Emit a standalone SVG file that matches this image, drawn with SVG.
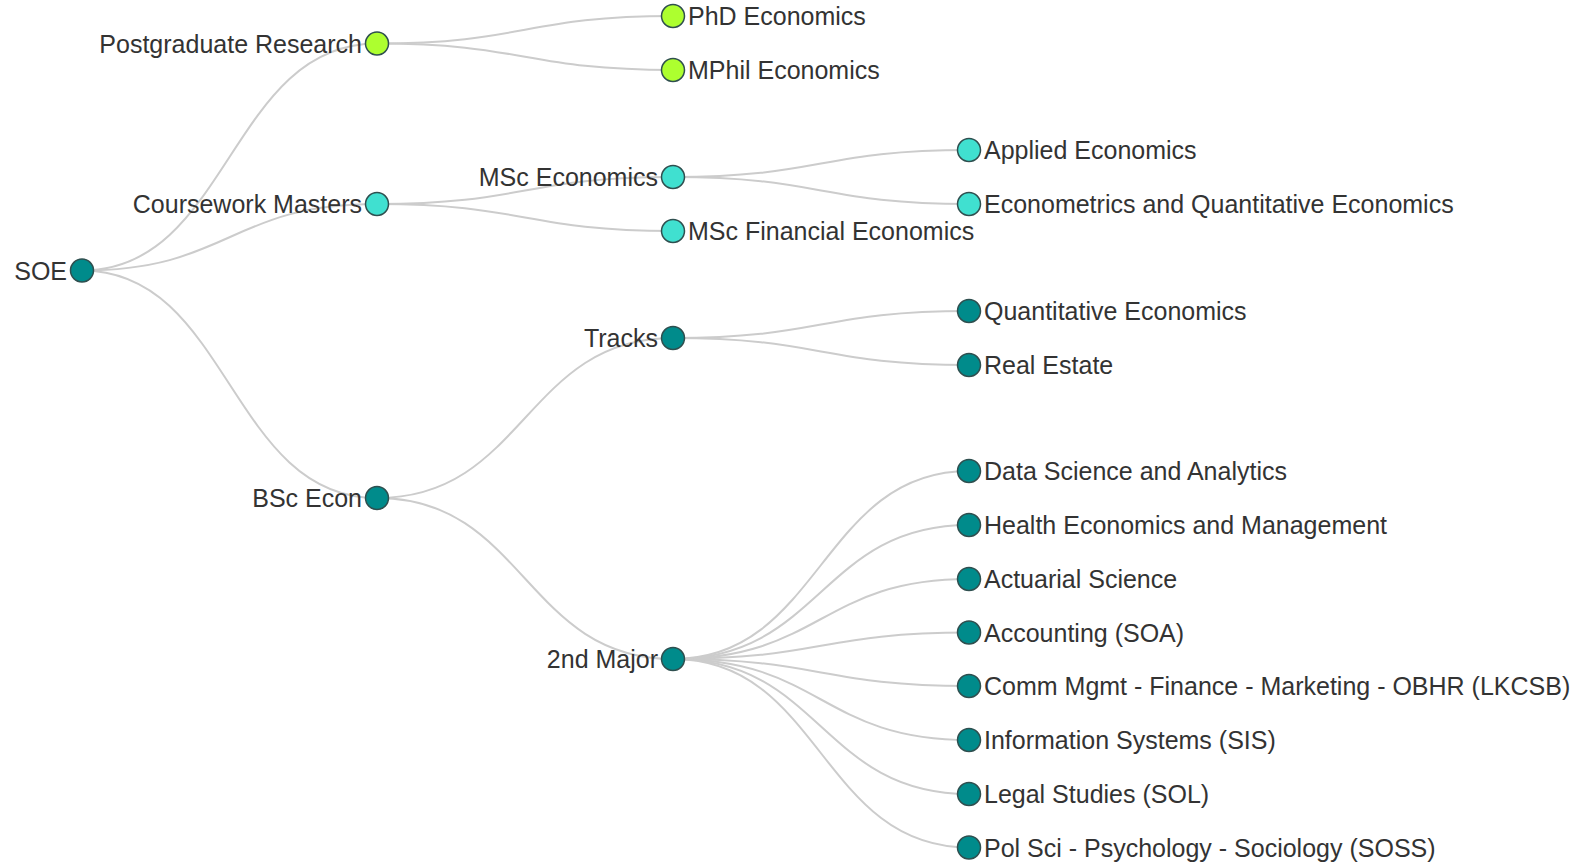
<svg xmlns="http://www.w3.org/2000/svg" width="1589" height="862" viewBox="0 0 1589 862">
<style>
.link{fill:none;stroke:#cccccc;stroke-width:2}
circle{stroke:#2f4f4f;stroke-width:1.5}
.g{fill:#adff2f}.t{fill:#40e0d0}.d{fill:#008b8b}
text{font-family:"Liberation Sans",Arial,sans-serif;font-size:25px;fill:#333}
.e{text-anchor:end}
</style>
<rect width="1589" height="862" fill="#fff"/>
<g id="links">
<path class="link" d="M82,270.5C229.5,270.5 229.5,43.5 377,43.5"/>
<path class="link" d="M82,270.5C229.5,270.5 229.5,204 377,204"/>
<path class="link" d="M82,270.5C229.5,270.5 229.5,498 377,498"/>
<path class="link" d="M377,43.5C525,43.5 525,16 673,16"/>
<path class="link" d="M377,43.5C525,43.5 525,70 673,70"/>
<path class="link" d="M377,204C525,204 525,177 673,177"/>
<path class="link" d="M377,204C525,204 525,231 673,231"/>
<path class="link" d="M377,498C525,498 525,338 673,338"/>
<path class="link" d="M377,498C525,498 525,659 673,659"/>
<path class="link" d="M673,177C821,177 821,150 969,150"/>
<path class="link" d="M673,177C821,177 821,204 969,204"/>
<path class="link" d="M673,338C821,338 821,311 969,311"/>
<path class="link" d="M673,338C821,338 821,365 969,365"/>
<path class="link" d="M673,659C821,659 821,471 969,471"/>
<path class="link" d="M673,659C821,659 821,525 969,525"/>
<path class="link" d="M673,659C821,659 821,579 969,579"/>
<path class="link" d="M673,659C821,659 821,632.5 969,632.5"/>
<path class="link" d="M673,659C821,659 821,686 969,686"/>
<path class="link" d="M673,659C821,659 821,740 969,740"/>
<path class="link" d="M673,659C821,659 821,794 969,794"/>
<path class="link" d="M673,659C821,659 821,847.5 969,847.5"/>
</g>
<g id="soe"><circle class="d" cx="82" cy="270.5" r="11.5"/><text class="e" x="67" y="279.5">SOE</text></g>
<g id="postgrad"><circle class="g" cx="377" cy="43.5" r="11.5"/><text class="e" x="362" y="52.5">Postgraduate Research</text></g>
<g id="coursework"><circle class="t" cx="377" cy="204" r="11.5"/><text class="e" x="362" y="213">Coursework Masters</text></g>
<g id="bsc"><circle class="d" cx="377" cy="498" r="11.5"/><text class="e" x="362" y="507">BSc Econ</text></g>
<g id="phd"><circle class="g" cx="673" cy="16" r="11.5"/><text x="688" y="25">PhD Economics</text></g>
<g id="mphil"><circle class="g" cx="673" cy="70" r="11.5"/><text x="688" y="79">MPhil Economics</text></g>
<g id="mscecon"><circle class="t" cx="673" cy="177" r="11.5"/><text class="e" x="658" y="186">MSc Economics</text></g>
<g id="mscfin"><circle class="t" cx="673" cy="231" r="11.5"/><text x="688" y="240">MSc Financial Economics</text></g>
<g id="tracks"><circle class="d" cx="673" cy="338" r="11.5"/><text class="e" x="658" y="347">Tracks</text></g>
<g id="major2"><circle class="d" cx="673" cy="659" r="11.5"/><text class="e" x="658" y="668">2nd Major</text></g>
<g id="applied"><circle class="t" cx="969" cy="150" r="11.5"/><text x="984" y="159">Applied Economics</text></g>
<g id="econometrics"><circle class="t" cx="969" cy="204" r="11.5"/><text x="984" y="213">Econometrics and Quantitative Economics</text></g>
<g id="quant"><circle class="d" cx="969" cy="311" r="11.5"/><text x="984" y="320">Quantitative Economics</text></g>
<g id="realestate"><circle class="d" cx="969" cy="365" r="11.5"/><text x="984" y="374">Real Estate</text></g>
<g id="datasci"><circle class="d" cx="969" cy="471" r="11.5"/><text x="984" y="480">Data Science and Analytics</text></g>
<g id="health"><circle class="d" cx="969" cy="525" r="11.5"/><text x="984" y="534">Health Economics and Management</text></g>
<g id="actuarial"><circle class="d" cx="969" cy="579" r="11.5"/><text x="984" y="588">Actuarial Science</text></g>
<g id="accounting"><circle class="d" cx="969" cy="632.5" r="11.5"/><text x="984" y="641.5">Accounting (SOA)</text></g>
<g id="comm"><circle class="d" cx="969" cy="686" r="11.5"/><text x="984" y="695">Comm Mgmt - Finance - Marketing - OBHR (LKCSB)</text></g>
<g id="infosys"><circle class="d" cx="969" cy="740" r="11.5"/><text x="984" y="749">Information Systems (SIS)</text></g>
<g id="legal"><circle class="d" cx="969" cy="794" r="11.5"/><text x="984" y="803">Legal Studies (SOL)</text></g>
<g id="polsci"><circle class="d" cx="969" cy="847.5" r="11.5"/><text x="984" y="856.5">Pol Sci - Psychology - Sociology (SOSS)</text></g>
</svg>
